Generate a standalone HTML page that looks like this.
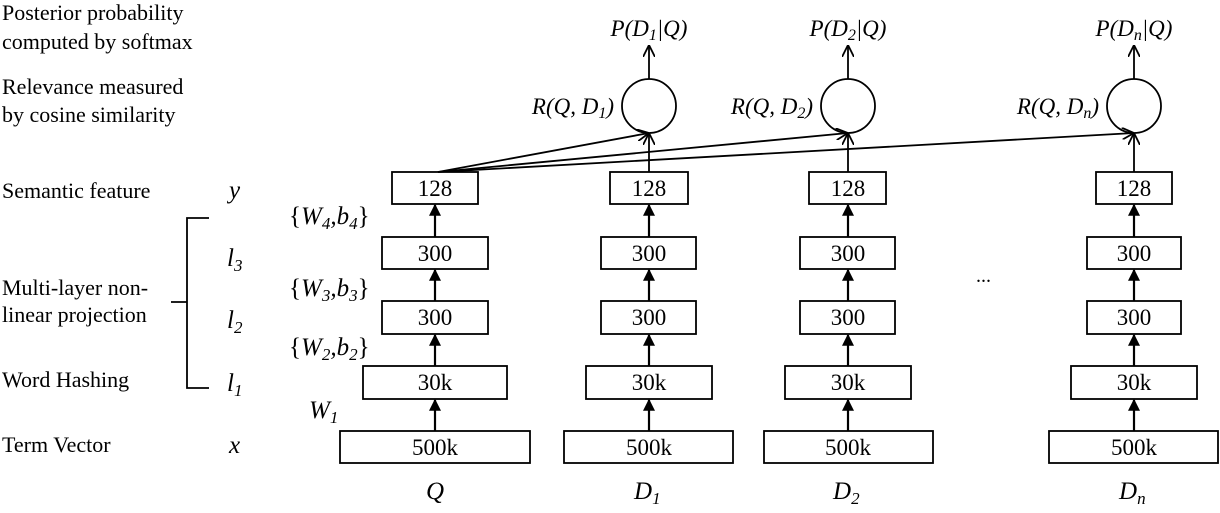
<!DOCTYPE html>
<html><head><meta charset="utf-8"><style>
html,body{margin:0;padding:0;background:#fff;}
svg{display:block;font-family:"Liberation Serif",serif;}
</style></head><body>
<svg width="1220" height="513" viewBox="0 0 1220 513" xmlns="http://www.w3.org/2000/svg">
<defs>
<marker id="fa" viewBox="0 0 10 10" refX="9" refY="5" markerWidth="14" markerHeight="12" orient="auto" markerUnits="userSpaceOnUse"><path d="M0,0 L10,5 L0,10 z" fill="#000"/></marker>
<marker id="oa" viewBox="0 0 10 10" refX="10" refY="5" markerWidth="12" markerHeight="12" orient="auto" markerUnits="userSpaceOnUse"><path d="M0,0 L10,5 L0,10" fill="none" stroke="#000" stroke-width="1.5"/></marker>
</defs>
<g font-size="22" fill="#000" textLength="1">
<text x="2" y="20">Posterior probability</text>
<text x="2" y="49">computed by softmax</text>
<text x="2" y="94">Relevance measured</text>
<text x="2" y="122">by cosine similarity</text>
<text x="2" y="198">Semantic feature</text>
<text x="2" y="295">Multi-layer non-</text>
<text x="2" y="322">linear projection</text>
<text x="2" y="387">Word Hashing</text>
<text x="2" y="452">Term Vector</text>
</g>
<g font-size="25" font-style="italic">
<text x="229" y="198">y</text>
<text x="227" y="266">l<tspan font-size="17" dy="5">3</tspan></text>
<text x="227" y="328">l<tspan font-size="17" dy="5">2</tspan></text>
<text x="227" y="391">l<tspan font-size="17" dy="5">1</tspan></text>
<text x="229" y="453">x</text>
<text x="289" y="224"><tspan font-style="normal">{</tspan>W<tspan font-size="17" dy="5">4</tspan><tspan dy="-5">,b</tspan><tspan font-size="17" dy="5">4</tspan><tspan font-style="normal" dy="-5">}</tspan></text>
<text x="289" y="296"><tspan font-style="normal">{</tspan>W<tspan font-size="17" dy="5">3</tspan><tspan dy="-5">,b</tspan><tspan font-size="17" dy="5">3</tspan><tspan font-style="normal" dy="-5">}</tspan></text>
<text x="289" y="355"><tspan font-style="normal">{</tspan>W<tspan font-size="17" dy="5">2</tspan><tspan dy="-5">,b</tspan><tspan font-size="17" dy="5">2</tspan><tspan font-style="normal" dy="-5">}</tspan></text>
<text x="309" y="418">W<tspan font-size="17" dy="5">1</tspan></text>
<text x="426" y="499">Q</text>
<text x="634" y="499">D<tspan font-size="17" dy="5">1</tspan></text>
<text x="833" y="499">D<tspan font-size="17" dy="5">2</tspan></text>
<text x="1119" y="499">D<tspan font-size="17" dy="5">n</tspan></text>
</g>
<path d="M209,218 H187 V388 H209 M171,302 H187" fill="none" stroke="#000" stroke-width="1.8"/>
<text x="976" y="282" font-size="20">...</text>
<g fill="#fff" stroke="#000" stroke-width="1.8">
<rect x="392" y="172" width="86" height="32"/><rect x="382" y="237" width="106" height="32"/><rect x="382" y="301" width="106" height="33"/><rect x="363" y="366" width="144" height="33"/><rect x="340" y="431" width="190" height="32"/>
<rect x="610" y="172" width="78" height="32"/><rect x="601" y="237" width="95" height="32"/><rect x="601" y="301" width="95" height="33"/><rect x="586" y="366" width="126" height="33"/><rect x="564" y="431" width="169" height="32"/>
<rect x="809" y="172" width="77" height="32"/><rect x="800" y="237" width="95" height="32"/><rect x="800" y="301" width="95" height="33"/><rect x="785" y="366" width="126" height="33"/><rect x="764" y="431" width="169" height="32"/>
<rect x="1096" y="172" width="76" height="32"/><rect x="1087" y="237" width="94" height="32"/><rect x="1087" y="301" width="94" height="33"/><rect x="1071" y="366" width="126" height="33"/><rect x="1049" y="431" width="169" height="32"/>
<circle cx="649" cy="106" r="27"/><circle cx="848" cy="106" r="27"/><circle cx="1134" cy="106" r="27"/>
</g>
<g font-size="23" text-anchor="middle">
<text x="435" y="196">128</text><text x="435" y="261">300</text><text x="435" y="325">300</text><text x="435" y="390">30k</text><text x="435" y="455">500k</text>
<text x="649" y="196">128</text><text x="649" y="261">300</text><text x="649" y="325">300</text><text x="649" y="390">30k</text><text x="649" y="455">500k</text>
<text x="848" y="196">128</text><text x="848" y="261">300</text><text x="848" y="325">300</text><text x="848" y="390">30k</text><text x="848" y="455">500k</text>
<text x="1134" y="196">128</text><text x="1134" y="261">300</text><text x="1134" y="325">300</text><text x="1134" y="390">30k</text><text x="1134" y="455">500k</text>
</g>
<g stroke="#000" stroke-width="2.2" marker-end="url(#fa)">
<line x1="435" y1="431" x2="435" y2="400"/><line x1="435" y1="366" x2="435" y2="335"/><line x1="435" y1="301" x2="435" y2="270"/><line x1="435" y1="237" x2="435" y2="205"/>
<line x1="649" y1="431" x2="649" y2="400"/><line x1="649" y1="366" x2="649" y2="335"/><line x1="649" y1="301" x2="649" y2="270"/><line x1="649" y1="237" x2="649" y2="205"/>
<line x1="848" y1="431" x2="848" y2="400"/><line x1="848" y1="366" x2="848" y2="335"/><line x1="848" y1="301" x2="848" y2="270"/><line x1="848" y1="237" x2="848" y2="205"/>
<line x1="1134" y1="431" x2="1134" y2="400"/><line x1="1134" y1="366" x2="1134" y2="335"/><line x1="1134" y1="301" x2="1134" y2="270"/><line x1="1134" y1="237" x2="1134" y2="205"/>
</g>
<g stroke="#000" stroke-width="1.8" fill="none" marker-end="url(#oa)">
<line x1="649" y1="172" x2="649" y2="133"/><line x1="848" y1="172" x2="848" y2="133"/><line x1="1134" y1="172" x2="1134" y2="133"/>
<line x1="438" y1="172" x2="649" y2="133"/><line x1="438" y1="172" x2="848" y2="133"/><line x1="438" y1="172" x2="1134" y2="133"/>
<line x1="649" y1="79" x2="649" y2="45"/><line x1="848" y1="79" x2="848" y2="45"/><line x1="1134" y1="79" x2="1134" y2="45"/>
</g>
<g font-size="23" font-style="italic" text-anchor="middle">
<text x="649" y="36">P(D<tspan font-size="16" dy="4">1</tspan><tspan dy="-4">|Q)</tspan></text>
<text x="848" y="36">P(D<tspan font-size="16" dy="4">2</tspan><tspan dy="-4">|Q)</tspan></text>
<text x="1134" y="36">P(D<tspan font-size="16" dy="4">n</tspan><tspan dy="-4">|Q)</tspan></text>
</g>
<g font-size="23" font-style="italic" text-anchor="end">
<text x="614" y="114">R(Q, D<tspan font-size="16" dy="4">1</tspan><tspan dy="-4">)</tspan></text>
<text x="813" y="114">R(Q, D<tspan font-size="16" dy="4">2</tspan><tspan dy="-4">)</tspan></text>
<text x="1099" y="114">R(Q, D<tspan font-size="16" dy="4">n</tspan><tspan dy="-4">)</tspan></text>
</g>
</svg>
</body></html>
